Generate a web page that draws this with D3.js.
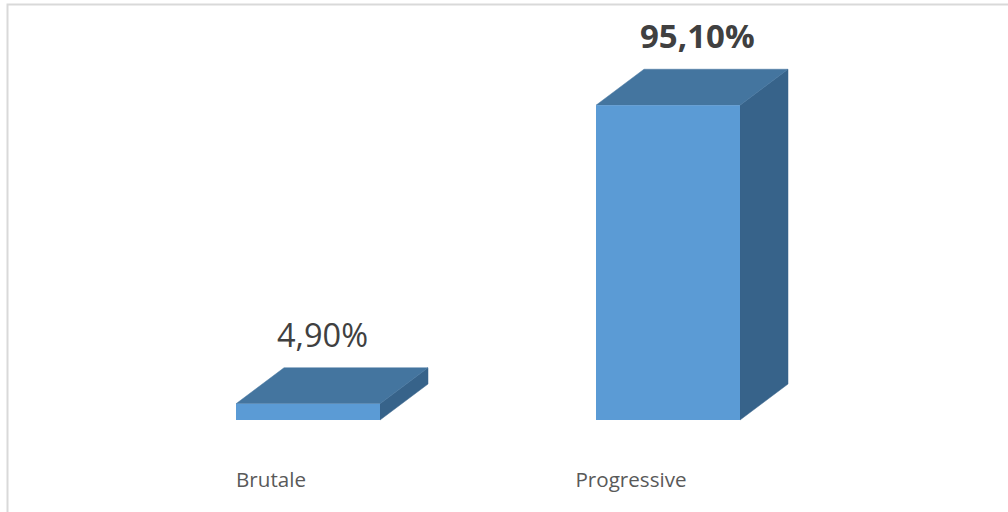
<!DOCTYPE html>
<html><head><meta charset="utf-8">
<script src="https://cdn.jsdelivr.net/npm/d3@7/dist/d3.min.js"></script>
<style>html,body{margin:0;padding:0;background:#fff;}svg{display:block;}</style>
</head><body><svg id="c" width="1008" height="512"></svg>
<script>
const categories = ["Brutale", "Progressive"];
const values = [0.049, 0.951];
const valueLabels = ["4,90%", "95,10%"];
const labelBold = [false, true];

const W = 1008, H = 512;
const svg = d3.select("#c");
svg.append("rect").attr("x", 0).attr("y", 0).attr("width", W).attr("height", H).attr("fill", "#fff");
svg.append("rect").attr("x", 7.5).attr("y", 4.5).attr("width", W + 20).attr("height", H + 20)
  .attr("fill", "none").attr("stroke", "#d9d9d9").attr("stroke-width", 2);

const x = d3.scaleBand().domain(categories).range([128, 848]).paddingInner(0.6).paddingOuter(0.3);
const y = d3.scaleLinear().domain([0, 1]).range([420, 89]);
const dx = 48, dy = -36;

const g = svg.append("g");
categories.forEach((c, i) => {
  const x0 = x(c), x1 = x0 + x.bandwidth(), y0 = y(0), y1 = y(values[i]);
  g.append("path").attr("d", `M${x1},${y1}L${x1+dx},${y1+dy}L${x1+dx},${y0+dy}L${x1},${y0}Z`)
    .attr("fill", "#37638a").attr("stroke", "#37638a").attr("stroke-width", 0.5);
  g.append("path").attr("d", `M${x0},${y1}L${x0+dx},${y1+dy}L${x1+dx},${y1+dy}L${x1},${y1}Z`)
    .attr("fill", "#44759f").attr("stroke", "#44759f").attr("stroke-width", 0.5);
  g.append("rect").attr("x", x0).attr("y", y1).attr("width", x.bandwidth()).attr("height", y0 - y1)
    .attr("fill", "#5b9bd5");
  g.append("text").attr("x", x0 + (labelBold[i] ? 44 : 41)).attr("y", y1 + dy - 21)
    .attr("font-family", "'Open Sans', sans-serif").attr("font-size", labelBold[i] ? 33 : 32.5)
    .attr("font-weight", labelBold[i] ? "bold" : "normal")
    .attr("fill", "#404040").text(valueLabels[i]);
  g.append("text").attr("x", x0 + x.bandwidth() / 2 - 37).attr("y", 487)
    .attr("text-anchor", "middle")
    .attr("font-family", "'Open Sans', sans-serif").attr("font-size", 20.6)
    .attr("fill", "#595959").text(c);
});
</script></body></html>
